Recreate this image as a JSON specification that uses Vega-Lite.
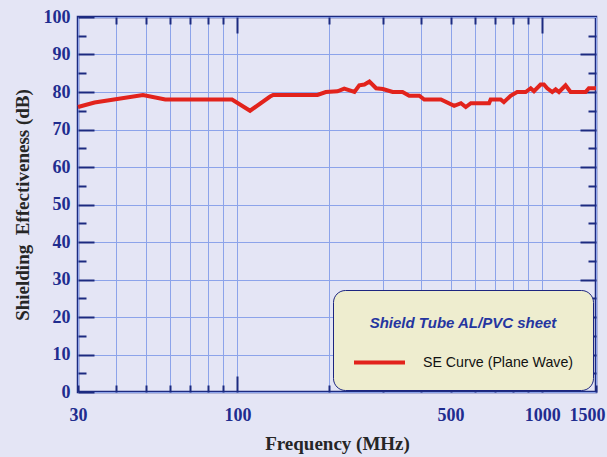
{
  "$schema": "https://vega.github.io/schema/vega-lite/v6.json",
  "width": 518,
  "height": 375,
  "autosize": {"type": "none"},
  "padding": {"left": 78, "top": 17, "right": 11, "bottom": 65},
  "background": "#e4e5f5",
  "config": {
    "view": {"stroke": "#1c2a80", "strokeWidth": 2.5, "fill": "#e4e5f5"},
    "axis": {
      "labelFont": "Liberation Serif",
      "labelFontWeight": "bold",
      "labelFontSize": 18,
      "labelColor": "#1f2d8f",
      "titleFont": "Liberation Serif",
      "titleFontWeight": "bold",
      "titleFontSize": 19,
      "titleColor": "#262626",
      "gridColor": "#8ca3ea",
      "gridWidth": 1,
      "tickColor": "#1c2a80",
      "tickWidth": 2,
      "domain": false,
      "labelFlush": false,
      "labelOverlap": false
    }
  },
  "data": {
    "values": [
      {"freq": 30, "se": 76},
      {"freq": 34, "se": 77.2},
      {"freq": 49, "se": 79.2},
      {"freq": 58, "se": 78},
      {"freq": 96, "se": 78},
      {"freq": 110, "se": 75},
      {"freq": 128, "se": 78.8},
      {"freq": 131, "se": 79.2},
      {"freq": 183, "se": 79.2},
      {"freq": 195, "se": 80},
      {"freq": 213, "se": 80.2},
      {"freq": 224, "se": 80.9},
      {"freq": 242, "se": 80},
      {"freq": 251, "se": 81.8},
      {"freq": 261, "se": 82},
      {"freq": 271, "se": 82.8},
      {"freq": 285, "se": 81},
      {"freq": 300, "se": 80.8},
      {"freq": 323, "se": 80},
      {"freq": 348, "se": 80},
      {"freq": 366, "se": 79},
      {"freq": 395, "se": 79},
      {"freq": 410, "se": 78},
      {"freq": 465, "se": 78},
      {"freq": 514, "se": 76.3},
      {"freq": 541, "se": 77},
      {"freq": 561, "se": 76},
      {"freq": 583, "se": 77},
      {"freq": 669, "se": 77},
      {"freq": 677, "se": 78},
      {"freq": 730, "se": 78},
      {"freq": 748, "se": 77.3},
      {"freq": 787, "se": 79},
      {"freq": 827, "se": 80},
      {"freq": 882, "se": 80},
      {"freq": 916, "se": 81},
      {"freq": 939, "se": 80.2},
      {"freq": 987, "se": 82},
      {"freq": 1012, "se": 82},
      {"freq": 1038, "se": 81},
      {"freq": 1078, "se": 80},
      {"freq": 1106, "se": 80.7},
      {"freq": 1134, "se": 80},
      {"freq": 1192, "se": 81.8},
      {"freq": 1238, "se": 80},
      {"freq": 1386, "se": 80},
      {"freq": 1421, "se": 81},
      {"freq": 1500, "se": 81}
    ]
  },
  "layer": [
    {
      "mark": {"type": "line", "strokeWidth": 4},
      "encoding": {
        "x": {
          "field": "freq",
          "type": "quantitative",
          "scale": {"type": "log", "domain": [30, 1500], "nice": false},
          "axis": {
            "orient": "bottom",
            "title": "Frequency (MHz)",
            "format": "d",
            "values": [30, 40, 50, 60, 70, 80, 90, 100, 200, 300, 400, 500, 600, 700, 800, 900, 1000, 1500],
            "labelExpr": "(datum.value === 30 || datum.value === 100 || datum.value === 500 || datum.value === 1000 || datum.value === 1500) ? datum.label : ''",
            "labelOffset": {"condition": {"test": "datum.value === 1500", "value": -9}, "value": 0},
            "tickSize": {"condition": {"test": "datum.value === 100 || datum.value === 1000", "value": -16}, "value": -7},
            "labelPadding": {"condition": {"test": "datum.value === 100 || datum.value === 1000", "value": 30}, "value": 21},
            "titlePadding": 10,
            "grid": true
          }
        },
        "y": {
          "field": "se",
          "type": "quantitative",
          "scale": {"domain": [0, 100], "nice": false},
          "axis": {
            "orient": "left",
            "title": "Shielding\u00a0 Effectiveness (dB)",
            "values": [0, 5, 10, 15, 20, 25, 30, 35, 40, 45, 50, 55, 60, 65, 70, 75, 80, 85, 90, 95, 100],
            "labelExpr": "datum.value % 10 === 0 ? datum.label : ''",
            "tickSize": {"condition": {"test": "datum.value % 10 === 0", "value": -16}, "value": -8},
            "labelPadding": {"condition": {"test": "datum.value % 10 === 0", "value": 24}, "value": 16},
            "titlePadding": 11,
            "grid": true,
            "gridOpacity": {"condition": {"test": "datum.value % 10 === 0", "value": 1}, "value": 0}
          }
        },
        "color": {
          "datum": "SE Curve (Plane Wave)",
          "type": "nominal",
          "scale": {"range": ["#e2231c"]},
          "legend": {
            "orient": "none",
            "legendX": 255,
            "legendY": 273,
            "title": "Shield Tube AL/PVC sheet",
            "titleFont": "Liberation Sans",
            "titleFontStyle": "italic",
            "titleFontWeight": "bold",
            "titleFontSize": 15,
            "titleLimit": 400,
            "titleColor": "#2535a0",
            "titleAnchor": "middle",
            "titleBaseline": "line-top",
            "titleLineHeight": 30,
            "titlePadding": 30,
            "labelFont": "Liberation Sans",
            "labelFontSize": 14.2,
            "labelLimit": 400,
            "labelColor": "#111111",
            "labelOffset": 16,
            "symbolType": "stroke",
            "symbolSize": 2601,
            "symbolStrokeWidth": 4,
            "clipHeight": 17,
            "fillColor": "#eeedcf",
            "strokeColor": "#1c2580",
            "cornerRadius": 12,
            "padding": 19,
            "encoding": {
              "legend": {"update": {"strokeWidth": {"value": 2}}}
            }
          }
        }
      }
    },
    {
      "mark": {"type": "line", "strokeOpacity": 0},
      "encoding": {
        "x": {
          "field": "freq",
          "type": "quantitative",
          "scale": {"type": "log", "domain": [30, 1500], "nice": false},
          "axis": {
            "orient": "top",
            "title": null,
            "labels": false,
            "grid": false,
            "values": [40, 50, 60, 70, 80, 90, 100, 200, 300, 400, 500, 600, 700, 800, 900, 1000],
            "tickSize": {"condition": {"test": "datum.value === 100 || datum.value === 1000", "value": -16}, "value": -7}
          }
        },
        "y": {
          "field": "se",
          "type": "quantitative",
          "scale": {"domain": [0, 100], "nice": false},
          "axis": {
            "orient": "right",
            "title": null,
            "labels": false,
            "grid": false,
            "values": [5, 10, 15, 20, 25, 30, 35, 40, 45, 50, 55, 60, 65, 70, 75, 80, 85, 90, 95],
            "tickSize": {"condition": {"test": "datum.value % 10 === 0", "value": -16}, "value": -8}
          }
        }
      }
    }
  ],
  "resolve": {"axis": {"x": "independent", "y": "independent"}}
}
